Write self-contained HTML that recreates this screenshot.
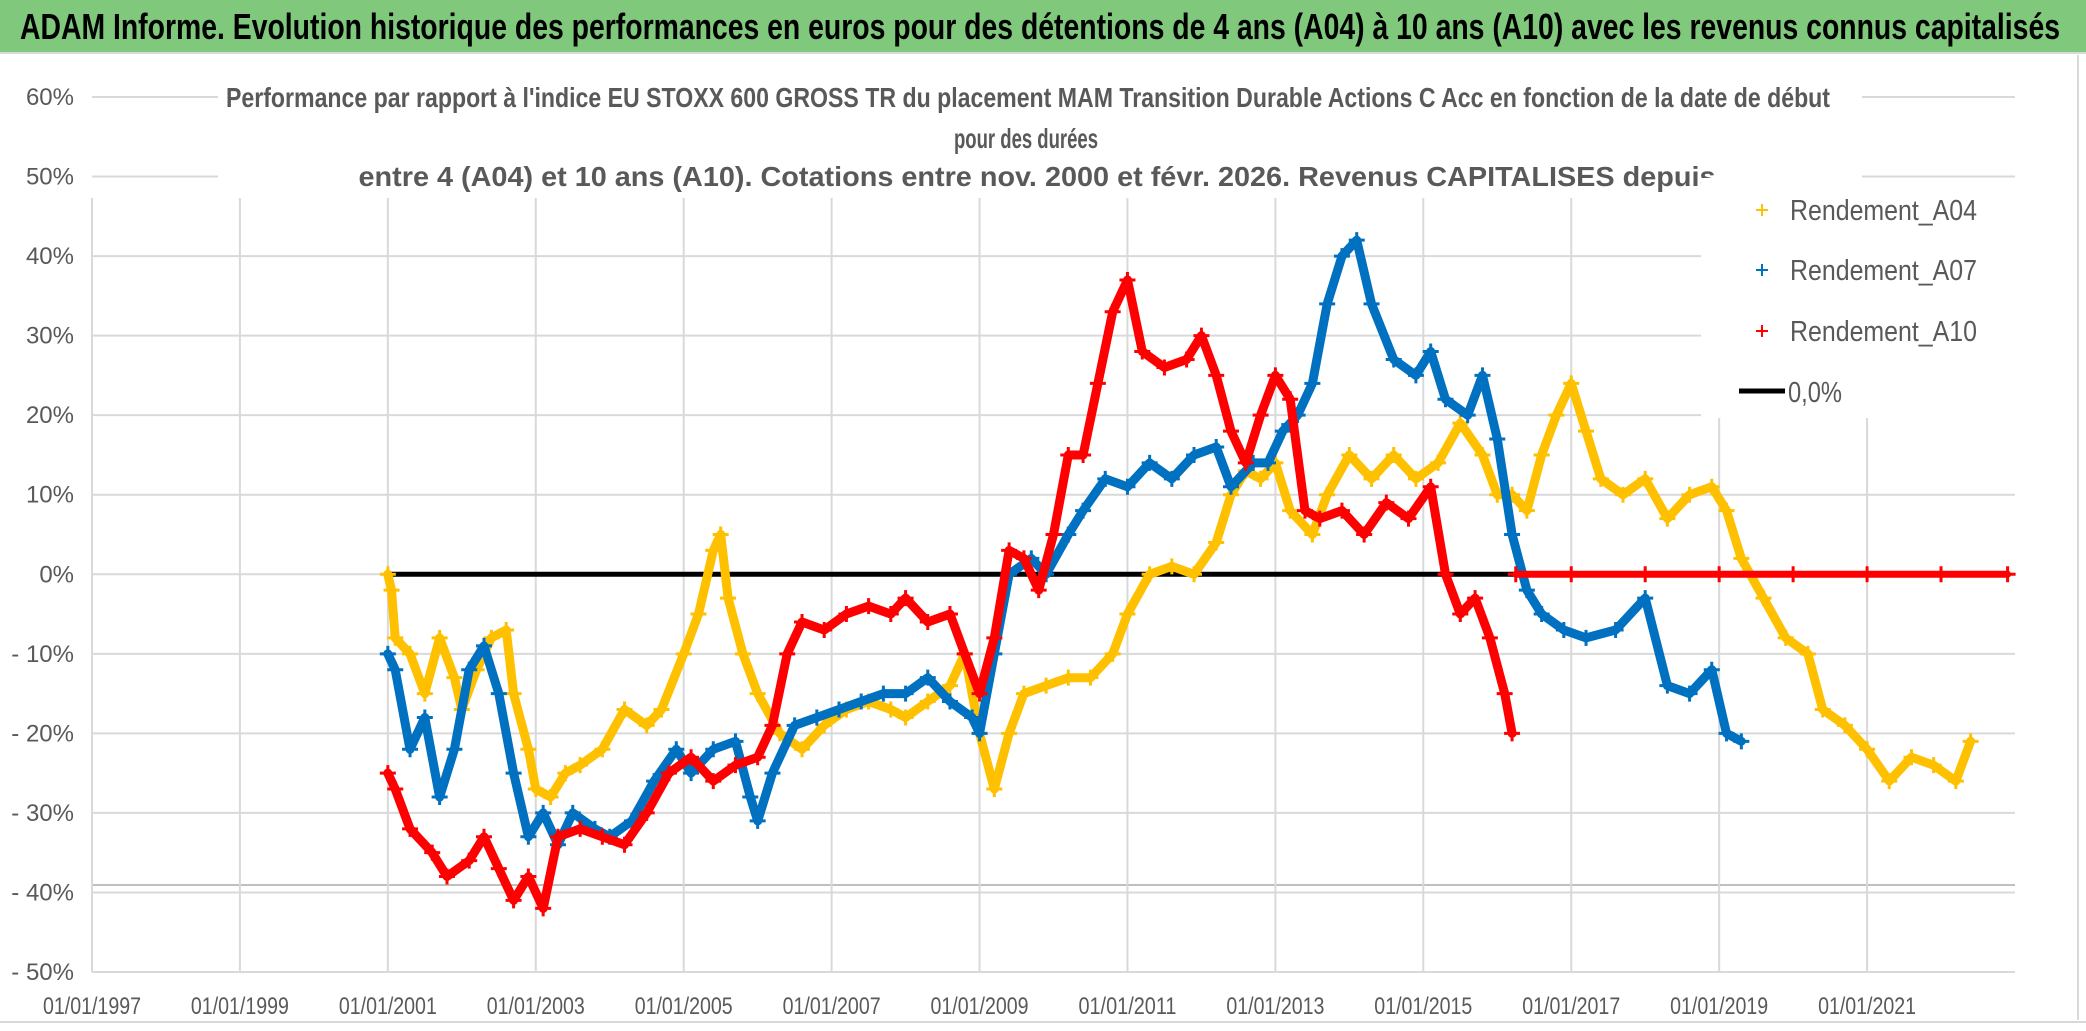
<!DOCTYPE html>
<html><head><meta charset="utf-8"><style>
html,body{margin:0;padding:0;background:#fff;}
svg{display:block;font-family:"Liberation Sans Narrow","Liberation Sans",sans-serif;}
</style></head><body>
<svg id="chart" width="2086" height="1031" viewBox="0 0 2086 1031" xmlns="http://www.w3.org/2000/svg">
<rect x="0" y="0" width="2086" height="1031" fill="#fff"/>
<rect x="0" y="0" width="2086" height="52" fill="#7fc87c"/>
<line x1="0" y1="53" x2="2086" y2="53" stroke="#d9d9d9" stroke-width="2"/>
<text x="1040" y="39" text-anchor="middle" font-size="36" font-weight="bold" fill="#000" textLength="2040" lengthAdjust="spacingAndGlyphs">ADAM Informe. Evolution historique des performances en euros pour des détentions de 4 ans (A04) à 10 ans (A10) avec les revenus connus capitalisés</text>
<g id="grid"></g>
<g id="marks"></g>
<rect x="218" y="70" width="1644" height="128" fill="#fff"/>
<text x="1028" y="107" text-anchor="middle" font-size="28" font-weight="bold" fill="#595959" textLength="1604" lengthAdjust="spacingAndGlyphs">Performance  par rapport à l'indice EU STOXX 600 GROSS TR  du placement MAM Transition Durable Actions C Acc en fonction de la date de début</text>
<text x="1026" y="148" text-anchor="middle" font-size="28" font-weight="bold" fill="#595959" textLength="144" lengthAdjust="spacingAndGlyphs">pour des durées</text>
<text x="1037" y="186" text-anchor="middle" font-size="28" font-weight="bold" fill="#595959" textLength="1357" lengthAdjust="spacingAndGlyphs" style="font-family:'Liberation Sans Narrow','Liberation Sans',sans-serif">entre 4 (A04) et 10 ans (A10). Cotations entre nov. 2000 et févr. 2026. Revenus CAPITALISES depuis</text>
<g>
<rect x="1701" y="178" width="330" height="240" fill="#fff"/>
<g><path d="M1756 210h12M1762 204v12" stroke="#ffc000" stroke-width="2"/><text x="1790" y="220" font-size="29" fill="#595959" textLength="187" lengthAdjust="spacingAndGlyphs">Rendement_A04</text></g>
<g><path d="M1756 270h12M1762 264v12" stroke="#0070c0" stroke-width="2"/><text x="1790" y="280" font-size="29" fill="#595959" textLength="187" lengthAdjust="spacingAndGlyphs">Rendement_A07</text></g>
<g><path d="M1756 331h12M1762 325v12" stroke="#ff0000" stroke-width="2"/><text x="1790" y="341" font-size="29" fill="#595959" textLength="187" lengthAdjust="spacingAndGlyphs">Rendement_A10</text></g>
<g><line x1="1739" y1="391" x2="1785" y2="391" stroke="#000" stroke-width="5"/><text x="1788" y="402" font-size="29" fill="#595959" textLength="54" lengthAdjust="spacingAndGlyphs">0,0%</text></g>
</g>
<g id="axes"></g>
<line x1="0" y1="1022" x2="2086" y2="1022" stroke="#d9d9d9" stroke-width="2"/>
<line x1="2078" y1="55" x2="2078" y2="1020" stroke="#d9d9d9" stroke-width="2"/>
</svg>
<script>
const years=[1997,1999,2001,2003,2005,2007,2009,2011,2013,2015,2017,2019,2021];
const yTicks=[60,50,40,30,20,10,0,-10,-20,-30,-40,-50];
const yLabels=["60%","50%","40%","30%","20%","10%","0%","- 10%","- 20%","- 30%","- 40%","- 50%"];
const a04Dates=[2001.0,2001.05,2001.1,2001.3,2001.5,2001.7,2001.9,2002.0,2002.2,2002.4,2002.6,2002.7,2002.9,2003.0,2003.2,2003.4,2003.6,2003.9,2004.2,2004.5,2004.7,2005.0,2005.2,2005.4,2005.5,2005.6,2005.8,2006.0,2006.3,2006.6,2006.9,2007.2,2007.5,2007.8,2008.0,2008.3,2008.6,2008.8,2009.0,2009.2,2009.4,2009.6,2009.9,2010.2,2010.5,2010.8,2011.0,2011.3,2011.6,2011.9,2012.2,2012.4,2012.6,2012.8,2013.0,2013.2,2013.5,2013.7,2014.0,2014.3,2014.6,2014.9,2015.2,2015.5,2015.8,2016.0,2016.2,2016.4,2016.6,2016.8,2017.0,2017.2,2017.4,2017.7,2018.0,2018.3,2018.6,2018.9,2019.1,2019.3,2019.6,2019.9,2020.2,2020.4,2020.7,2021.0,2021.3,2021.6,2021.9,2022.2,2022.4];
const a04Values=[0,-2,-8,-10,-15,-8,-13,-17,-12,-8,-7,-15,-22,-27,-28,-25,-24,-22,-17,-19,-17,-10,-5,3,5,-3,-10,-15,-20,-22,-19,-17,-16,-17,-18,-16,-14,-10,-20,-27,-20,-15,-14,-13,-13,-10,-5,0,1,0,4,10,13,12,14,8,5,10,15,12,15,12,14,19,15,10,10,8,15,20,24,18,12,10,12,7,10,11,8,2,-3,-8,-10,-17,-19,-22,-26,-23,-24,-26,-21];
const a07Dates=[2001.0,2001.1,2001.3,2001.5,2001.7,2001.9,2002.1,2002.3,2002.5,2002.7,2002.9,2003.1,2003.3,2003.5,2003.8,2004.0,2004.3,2004.6,2004.9,2005.1,2005.4,2005.7,2005.9,2006.0,2006.2,2006.5,2006.8,2007.1,2007.4,2007.7,2008.0,2008.3,2008.6,2008.9,2009.0,2009.2,2009.4,2009.7,2009.9,2010.2,2010.4,2010.7,2011.0,2011.3,2011.6,2011.9,2012.2,2012.4,2012.7,2012.9,2013.1,2013.3,2013.5,2013.7,2013.9,2014.1,2014.3,2014.6,2014.9,2015.1,2015.3,2015.6,2015.8,2016.0,2016.2,2016.4,2016.6,2016.9,2017.2,2017.6,2018.0,2018.3,2018.6,2018.9,2019.1,2019.3];
const a07Values=[-10,-12,-22,-18,-28,-22,-12,-9,-15,-25,-33,-30,-34,-30,-32,-33,-31,-26,-22,-25,-22,-21,-28,-31,-25,-19,-18,-17,-16,-15,-15,-13,-16,-18,-20,-10,0,2,0,5,8,12,11,14,12,15,16,11,14,14,18,20,24,34,40,42,34,27,25,28,22,20,25,17,5,-2,-5,-7,-8,-7,-3,-14,-15,-12,-20,-21];
const a10Dates=[2001.0,2001.1,2001.3,2001.6,2001.8,2002.1,2002.3,2002.5,2002.7,2002.9,2003.1,2003.3,2003.6,2003.9,2004.2,2004.5,2004.8,2005.1,2005.4,2005.7,2006.0,2006.2,2006.4,2006.6,2006.9,2007.2,2007.5,2007.8,2008.0,2008.3,2008.6,2008.8,2009.0,2009.2,2009.4,2009.6,2009.8,2010.0,2010.2,2010.4,2010.6,2010.8,2011.0,2011.2,2011.5,2011.8,2012.0,2012.2,2012.4,2012.6,2012.8,2013.0,2013.2,2013.4,2013.6,2013.9,2014.2,2014.5,2014.8,2015.1,2015.3,2015.5,2015.7,2015.9,2016.1,2016.2];
const a10Values=[-25,-27,-32,-35,-38,-36,-33,-37,-41,-38,-42,-33,-32,-33,-34,-30,-25,-23,-26,-24,-23,-19,-10,-6,-7,-5,-4,-5,-3,-6,-5,-10,-15,-8,3,2,-2,5,15,15,24,33,37,28,26,27,30,25,18,14,20,25,22,8,7,8,5,9,7,11,0,-5,-3,-8,-15,-20];
const a10FlatDates=[2016.25,2017,2018,2019,2020,2021,2022,2022.9];
const a10FlatValues=[0,0,0,0,0,0,0,0];
const zeroLineDates=[2001.0,2022.9];
const zeroLineValues=[0,0];

const NS="http://www.w3.org/2000/svg";
const X0=92,X1=2015,Y_TOP=97,Y_BOT=972;
function xs(yr){return X0+(yr-1997)/(2023-1997)*(X1-X0);}
function ys(v){return Y_TOP+(60-v)/110*(Y_BOT-Y_TOP);}
function mk(tag,attrs,parent){const e=document.createElementNS(NS,tag);for(const k in attrs)e.setAttribute(k,attrs[k]);parent.appendChild(e);return e;}
const grid=document.getElementById('grid'),marks=document.getElementById('marks'),axes=document.getElementById('axes');
yTicks.forEach((t,i)=>{
  const l=mk('line',{x1:X0,x2:X1,y1:ys(t),y2:ys(t),stroke:'#d9d9d9','stroke-width':2},grid);
  
  
  const tx=mk('text',{x:74,y:ys(t)+8,'text-anchor':'end','font-size':24,fill:'#595959'},axes);
  tx.textContent=yLabels[i];
  
  
});
const extra=mk('line',{x1:X0,x2:X1,y1:885,y2:885,stroke:'#bfbfbf','stroke-width':2},grid);


years.forEach(y=>{
  const l=mk('line',{x1:xs(y),x2:xs(y),y1:198,y2:Y_BOT,stroke:'#d9d9d9','stroke-width':2},grid);
  
  
  const tx=mk('text',{x:xs(y),y:1014,'text-anchor':'middle','font-size':24,fill:'#595959',textLength:98,lengthAdjust:'spacingAndGlyphs'},axes);
  tx.textContent='01/01/'+y;
  
  
});
function series(dates,vals,color,name,w){
  const g=mk('g',{},marks);
  
  
  const pts=dates.map((d,i)=>xs(d).toFixed(1)+','+ys(vals[i]).toFixed(1)).join(' ');
  mk('polyline',{points:pts,fill:'none',stroke:color,'stroke-width':w,'stroke-linejoin':'round','stroke-linecap':'round'},g);
  dates.forEach((d,i)=>{
    const x=xs(d),y=ys(vals[i]);
    const p=mk('path',{d:`M${x-8} ${y}h16M${x} ${y-8}v16`,stroke:color,'stroke-width':3},g);
    
    
  });
}
const zl=mk('line',{x1:xs(zeroLineDates[0]),x2:xs(zeroLineDates[1]),y1:ys(zeroLineValues[0]),y2:ys(zeroLineValues[1]),stroke:'#000','stroke-width':5},marks);


series(a04Dates,a04Values,'#ffc000','series-a04',9);
series(a07Dates,a07Values,'#0070c0','series-a07',9);
series(a10Dates,a10Values,'#ff0000','series-a10',9);
series(a10FlatDates,a10FlatValues,'#ff0000','series-a10-flat',7);
</script>
</body></html>
